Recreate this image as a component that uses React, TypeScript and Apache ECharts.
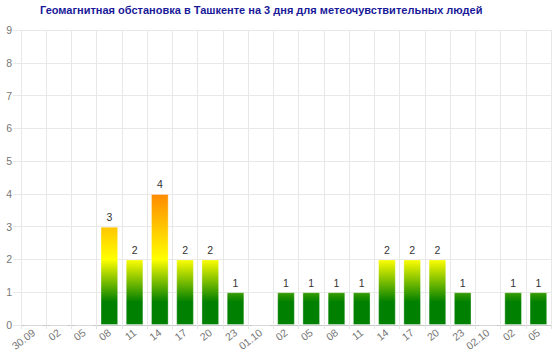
import React, { useEffect, useRef } from "react";
import * as echarts from "echarts";

const titleText = "Геомагнитная обстановка в Ташкенте на 3 дня для метеочувствительных людей";
const categories = [
  "30.09", "02", "05", "08", "11", "14", "17", "20", "23",
  "01.10", "02", "05", "08", "11", "14", "17", "20", "23",
  "02.10", "02", "05",
];
const kpValues = [0, 0, 0, 3, 2, 4, 2, 2, 1, 0, 1, 1, 1, 1, 2, 2, 2, 1, 0, 1, 1];
const colorStops = [
  { value: 0, color: "#008000" },
  { value: 0.7, color: "#008000" },
  { value: 2, color: "#ffff00" },
  { value: 4, color: "#ff8a00" },
];

export default function App() {
  const ref = useRef<HTMLDivElement>(null);
  useEffect(() => {
    if (!ref.current) return;
    const chart = echarts.init(ref.current, undefined, { renderer: "svg" });
    const base: any = {
      animation: false,
      title: {
        text: titleText,
        left: 40,
        top: 4,
        padding: 0,
        textStyle: {
          fontFamily: "Liberation Sans, Arial, sans-serif",
          fontSize: 11,
          fontWeight: "bold",
          color: "#1a1a99",
        },
      },
      grid: { left: 21, right: 9, top: 30, bottom: 32 },
      xAxis: {
        type: "category",
        data: categories,
        boundaryGap: true,
        axisLine: { lineStyle: { color: "#c8c8c8" } },
        axisTick: { show: true, length: 4, lineStyle: { color: "#e4e4e4" } },
        splitLine: { show: true, lineStyle: { color: "#e8e8e8" } },
        axisLabel: {
          interval: 0,
          rotate: 38,
          fontSize: 10.5,
          color: "#777",
          fontFamily: "Liberation Sans, Arial, sans-serif",
          margin: 6,
        },
      },
      yAxis: {
        type: "value",
        min: 0,
        max: 9,
        interval: 1,
        axisLine: { show: false },
        axisTick: { show: true, length: 8, lineStyle: { color: "#e8e8e8" } },
        splitLine: { show: true, lineStyle: { color: "#e8e8e8" } },
        axisLabel: {
          fontSize: 10.5,
          color: "#777",
          margin: 9,
          fontFamily: "Liberation Sans, Arial, sans-serif",
        },
      },
      series: [
        {
          type: "bar",
          data: kpValues,
          barWidth: "70%",
          itemStyle: { color: "#008000", borderColor: "rgba(255,255,255,0.35)", borderWidth: 1 },
          label: {
            show: true,
            position: "top",
            fontSize: 10.5,
            color: "#333",
            distance: 4,
            fontFamily: "Liberation Sans, Arial, sans-serif",
            formatter: (p: any) => (p.value > 0 ? String(p.value) : ""),
          },
        },
      ],
    };
    chart.setOption(base);
    const y0 = chart.convertToPixel({ yAxisIndex: 0 }, 0) as number;
    const y4 = chart.convertToPixel({ yAxisIndex: 0 }, 4) as number;
    const grad = new echarts.graphic.LinearGradient(
      0, y0, 0, y4,
      colorStops.map((s) => ({ offset: s.value / 4, color: s.color })),
      true
    );
    chart.setOption({ series: [{ itemStyle: { color: grad } }] });
    return () => chart.dispose();
  }, []);
  return <div ref={ref} style={{ width: 560, height: 357, position: "absolute", left: 0, top: 0 }} />;
}
